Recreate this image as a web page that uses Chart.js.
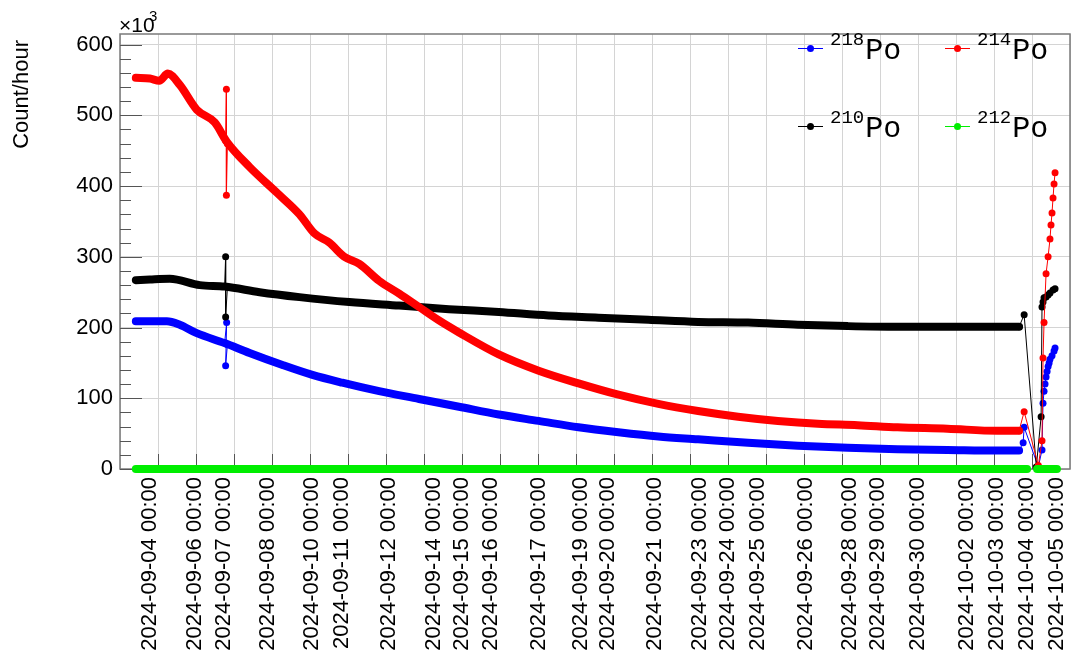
<!DOCTYPE html>
<html>
<head>
<meta charset="utf-8">
<script src="https://cdn.jsdelivr.net/npm/chart.js@4.4.1/dist/chart.umd.min.js"></script>
<style>
  html, body { margin: 0; padding: 0; background: #fff; }
</style>
</head>
<body>
<canvas id="myChart" width="1074" height="655"></canvas>
<script>
// x is the bin index of the hourly histogram, labels sit on selected bins
var tickPos = [23.6, 59.0, 81.8, 116.5, 151.9, 175.5, 212.5, 247.9, 269.9, 292.8, 330.5, 363.6, 385.6,
               422.6, 458.0, 480.1, 503.7, 541.4, 576.1, 598.1, 629.6, 668.9, 692.5, 716.1, 739.7];
var tickLabels = ["2024-09-04 00:00", "2024-09-06 00:00", "2024-09-07 00:00", "2024-09-08 00:00",
                  "2024-09-10 00:00", "2024-09-11 00:00", "2024-09-12 00:00", "2024-09-14 00:00",
                  "2024-09-15 00:00", "2024-09-16 00:00", "2024-09-17 00:00", "2024-09-19 00:00",
                  "2024-09-20 00:00", "2024-09-21 00:00", "2024-09-23 00:00", "2024-09-24 00:00",
                  "2024-09-25 00:00", "2024-09-26 00:00", "2024-09-28 00:00", "2024-09-29 00:00",
                  "2024-09-30 00:00", "2024-10-02 00:00", "2024-10-03 00:00", "2024-10-04 00:00",
                  "2024-10-05 00:00"];
var yTicks = [0, 100, 200, 300, 400, 500, 600];

// values in units of 10^3 count/hour
// 218Po (blue)
var po218X = [12.5, 23.6, 37.0, 47.2, 60.6, 82.6, 102.3, 128.3, 151.9, 175.5, 204.6, 236.1, 267.6, 299.0,
              330.5, 362.0, 393.5, 425.0, 456.4, 495.8, 535.1, 574.5, 613.8, 653.2, 692.5, 709.8];
var po218Y = [209, 209, 209, 204, 192, 178, 164, 147, 133, 122, 110, 99, 88, 77,
              68, 59, 52, 46, 42, 37, 33, 30, 28, 27, 26, 26];
var po218JumpX = [82.6, 84.2, 83.4, 84.8];
var po218JumpY = [178, 207, 146, 176];
var po218TailX = [709.8, 713.0, 713.8, 725.0, 727.9, 728.7, 729.5, 730.3, 731.1, 731.9, 732.7, 733.5, 734.2, 735.8, 737.4, 738.2];
var po218TailY = [26, 37, 59, 3, 27, 93, 110, 120, 130, 138, 145, 150, 155, 160, 167, 171];

// 214Po (red)
var po214X = [12.5, 23.6, 31.0, 37.8, 47.2, 60.6, 74.8, 84.2, 102.3, 123.6, 141.7, 153.5, 165.3, 177.1, 188.9,
              204.6, 220.4, 236.1, 251.8, 267.6, 299.0, 330.5, 362.0, 393.5, 425.0, 456.4, 487.9, 519.4,
              550.9, 582.4, 613.8, 653.2, 692.5, 709.8];
var po214Y = [553, 552, 549, 559, 543, 508, 490, 463, 427, 391, 360, 333, 320, 300, 290,
              266, 248, 229, 210, 193, 162, 139, 121, 105, 92, 82, 74, 68,
              64, 62, 59, 57, 54, 54];
var po214JumpX = [83.4, 84.0, 84.0, 84.8];
var po214JumpY = [464, 537, 387, 460];
var po214TailX = [709.8, 713.8, 725.0, 727.9, 728.7, 729.5, 731.1, 732.7, 734.2, 735.0, 735.8, 736.6, 737.4, 738.2];
var po214TailY = [54, 81, 5, 40, 157, 207, 276, 300, 325, 345, 362, 383, 403, 419];

// 210Po (black)
var po210X = [12.5, 23.6, 39.3, 63.0, 82.6, 110.2, 141.7, 181.0, 220.4, 259.7, 299.0, 338.4, 377.7,
              417.1, 456.4, 495.8, 535.1, 574.5, 613.8, 653.2, 709.8];
var po210Y = [267, 268, 269, 260, 258, 250, 243, 236, 231, 226, 222, 217, 214,
              211, 208, 207, 204, 202, 201, 201, 201];
var po210JumpX = [82.6, 83.4, 83.4, 84.8];
var po210JumpY = [258, 300, 215, 257];
var po210TailX = [709.8, 713.8, 723.4, 727.2, 727.9, 728.7, 729.5, 731.1, 732.7, 734.2, 736.6, 738.2];
var po210TailY = [201, 218, 3, 74, 229, 236, 242, 243, 246, 249, 253, 255];

// 212Po (green)
var po212X = [12.5, 716.1];
var po212Y = [0, 0];
var po212LateX = [724.0, 739.7];
var po212LateY = [0, 0];

var legendIso = ["218", "214", "210", "212"];
var legendColors = ["#0000ff", "#ff0000", "#000000", "#00ee00"];

function pts(xs, ys) {
  return xs.map(function (x, i) { return { x: x, y: ys[i] }; });
}

function band(xs, ys, color, order) {
  return {
    data: pts(xs, ys), borderColor: color, borderWidth: 8, pointRadius: 0,
    borderCapStyle: 'round', borderJoinStyle: 'round', cubicInterpolationMode: 'monotone',
    fill: false, clip: 10, order: order
  };
}

function markers(xs, ys, color, order) {
  return {
    data: pts(xs, ys), borderColor: color, borderWidth: 1, pointRadius: 3.5,
    pointBackgroundColor: color, pointBorderWidth: 0, tension: 0,
    fill: false, clip: 10, order: order
  };
}

var rootStyle = {
  id: 'rootStyle',
  beforeDatasetsDraw: function (chart) {
    var c = chart.ctx, a = chart.chartArea;
    var ys = chart.scales.y, xs = chart.scales.x;
    c.save();
    c.strokeStyle = '#7a7a7a';
    c.lineWidth = 1.5;
    c.strokeRect(a.left, a.top, a.right - a.left, a.bottom - a.top);
    c.lineWidth = 1;
    c.strokeStyle = '#555';
    c.beginPath();
    for (var v = 0; v <= 600; v += 20) {
      var py = Math.round(ys.getPixelForValue(v)) + 0.5;
      var len = v % 100 === 0 ? 22 : 11;
      c.moveTo(a.left, py);
      c.lineTo(a.left + len, py);
    }
    for (var u = 30; u < 750; u += 30) {
      var px = Math.round(xs.getPixelForValue(u)) + 0.5;
      c.moveTo(px, a.bottom);
      c.lineTo(px, a.bottom - 15);
    }
    c.stroke();
    c.restore();
  },
  afterDraw: function (chart) {
    var c = chart.ctx;
    c.save();
    // axis title
    c.fillStyle = '#000';
    c.font = '22px "Liberation Sans"';
    c.translate(22, 40);
    c.rotate(-Math.PI / 2);
    c.textAlign = 'right';
    c.textBaseline = 'middle';
    c.fillText('Count/hour', 0, 0);
    c.restore();

    c.save();
    c.fillStyle = '#000';
    c.textBaseline = 'alphabetic';
    c.font = '21px "Liberation Sans"';
    c.fillText('\u00d710', 119, 32);
    c.font = '15px "Liberation Sans"';
    c.fillText('3', 149, 21);

    // legend
    for (var i = 0; i < legendIso.length; i++) {
      var lx = i % 2 === 0 ? 798 : 945;
      var ly = i < 2 ? 48 : 126;
      c.strokeStyle = legendColors[i];
      c.lineWidth = 1;
      c.beginPath();
      c.moveTo(lx, ly + 0.5);
      c.lineTo(lx + 25, ly + 0.5);
      c.stroke();
      c.fillStyle = legendColors[i];
      c.beginPath();
      c.arc(lx + 12.5, ly + 0.5, 3.5, 0, Math.PI * 2);
      c.fill();
      c.fillStyle = '#000';
      c.font = '19px "Liberation Mono"';
      c.fillText(legendIso[i], lx + 32, ly - 3);
      var w = c.measureText(legendIso[i]).width;
      c.font = '30px "Liberation Mono"';
      c.fillText('Po', lx + 33 + w, ly + 11);
    }
    c.restore();
  }
};

Chart.defaults.font.family = '"Liberation Sans", Arial, sans-serif';

var ctx = document.getElementById('myChart').getContext('2d');
var chart = new Chart(ctx, {
  type: 'line',
  data: {
    datasets: [
      band(po212X, po212Y, legendColors[3], 1),
      band(po212LateX, po212LateY, legendColors[3], 1),
      markers(po214JumpX, po214JumpY, legendColors[1], 2),
      markers(po214TailX, po214TailY, legendColors[1], 2),
      band(po214X, po214Y, legendColors[1], 3),
      markers(po210JumpX, po210JumpY, legendColors[2], 4),
      markers(po210TailX, po210TailY, legendColors[2], 4),
      band(po210X, po210Y, legendColors[2], 5),
      markers(po218JumpX, po218JumpY, legendColors[0], 6),
      markers(po218TailX, po218TailY, legendColors[0], 6),
      band(po218X, po218Y, legendColors[0], 7)
    ]
  },
  options: {
    responsive: false,
    animation: false,
    events: [],
    layout: { padding: { top: 34, right: 2, left: 0, bottom: 0 } },
    plugins: { legend: { display: false }, tooltip: { enabled: false } },
    scales: {
      x: {
        type: 'linear', min: 0, max: 750, position: 'bottom',
        grid: { display: false, drawTicks: false },
        border: { display: false },
        afterBuildTicks: function (scale) {
          scale.ticks = tickPos.map(function (v) { return { value: v }; });
        },
        afterFit: function (scale) {
          scale.height = 186;
          scale.paddingLeft = 0;
          scale.paddingRight = 0;
        },
        ticks: {
          autoSkip: false, minRotation: 90, maxRotation: 90, padding: 8,
          color: '#000', font: { size: 22 },
          callback: function (value, index) { return tickLabels[index]; }
        }
      },
      xGrid: {
        type: 'linear', min: 0, max: 750, position: 'top',
        grid: { color: '#d4d4d4', drawTicks: false },
        border: { display: false },
        afterFit: function (scale) { scale.height = 0; },
        ticks: { display: false, stepSize: 30 }
      },
      y: {
        type: 'linear', min: 0, max: 615,
        grid: { color: '#d4d4d4', drawTicks: false },
        border: { display: false },
        afterBuildTicks: function (scale) {
          scale.ticks = yTicks.map(function (v) { return { value: v }; });
        },
        afterFit: function (scale) { scale.width = 120; },
        ticks: { padding: 7, color: '#000', font: { size: 22 } }
      }
    }
  },
  plugins: [rootStyle]
});
</script>
</body>
</html>
